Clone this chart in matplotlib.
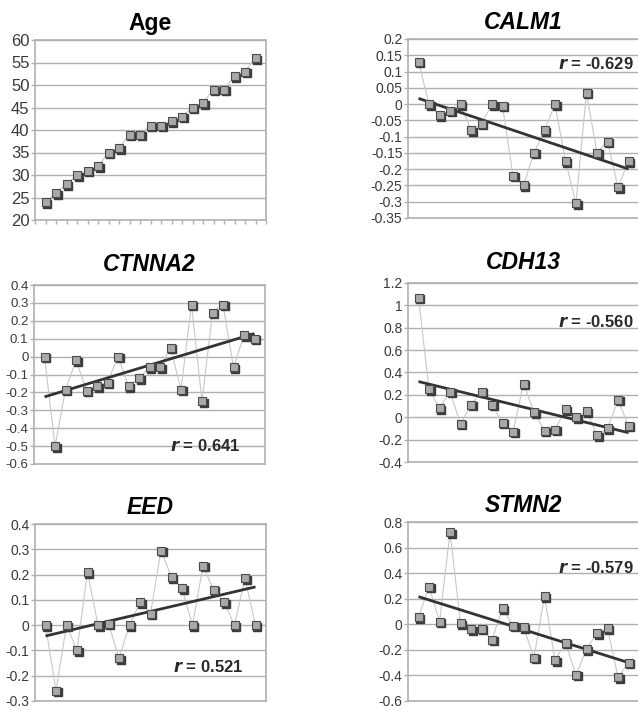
import numpy as np
import matplotlib
matplotlib.use('Agg')
import matplotlib.pyplot as plt
from matplotlib.transforms import offset_copy

plt.rcParams['font.family'] = ['Liberation Sans', 'DejaVu Sans']

# ---- data (21 samples, ordered by age) ----
age = [24, 26, 28, 30, 31, 32, 35, 36, 39, 39, 41, 41, 42, 43, 45, 46, 49, 49, 52, 53, 56]
calm1 = [0.13, 0.0, -0.035, -0.02, 0.0, -0.08, -0.06, 0.0, -0.005, -0.22, -0.25,
         -0.15, -0.08, 0.0, -0.175, -0.305, 0.035, -0.15, -0.115, -0.255, -0.175]
ctnna2 = [0.0, -0.5, -0.185, -0.02, -0.19, -0.165, -0.145, 0.0, -0.165, -0.12, -0.06,
          -0.06, 0.05, -0.185, 0.29, -0.25, 0.245, 0.29, -0.06, 0.12, 0.10]
cdh13 = [1.07, 0.25, 0.08, 0.23, -0.06, 0.11, 0.23, 0.11, -0.05, -0.13, 0.30,
         0.045, -0.12, -0.11, 0.07, 0.0, 0.055, -0.16, -0.10, 0.155, -0.075]
eed = [0.0, -0.26, 0.0, -0.1, 0.21, 0.0, 0.005, -0.13, 0.0, 0.09, 0.045,
       0.295, 0.19, 0.145, 0.0, 0.235, 0.14, 0.09, 0.0, 0.185, 0.0]
stmn2 = [0.055, 0.295, 0.02, 0.72, 0.01, -0.04, -0.035, -0.12, 0.125, -0.01, -0.025,
         -0.26, 0.22, -0.28, -0.145, -0.395, -0.195, -0.07, -0.03, -0.415, -0.30]

titles = ['Age', 'CALM1', 'CTNNA2', 'CDH13', 'EED', 'STMN2']
r_values = [None, '-0.629', '0.641', '-0.560', '0.521', '-0.579']

age_ticks = [20, 25, 30, 35, 40, 45, 50, 55, 60]
calm1_ticks = [-0.35, -0.3, -0.25, -0.2, -0.15, -0.1, -0.05, 0, 0.05, 0.1, 0.15, 0.2]
ctnna2_ticks = [-0.6, -0.5, -0.4, -0.3, -0.2, -0.1, 0, 0.1, 0.2, 0.3, 0.4]
cdh13_ticks = [-0.4, -0.2, 0, 0.2, 0.4, 0.6, 0.8, 1, 1.2]
eed_ticks = [-0.3, -0.2, -0.1, 0, 0.1, 0.2, 0.3, 0.4]
stmn2_ticks = [-0.6, -0.4, -0.2, 0, 0.2, 0.4, 0.6, 0.8]

series = [age, calm1, ctnna2, cdh13, eed, stmn2]
yticks = [age_ticks, calm1_ticks, ctnna2_ticks, cdh13_ticks, eed_ticks, stmn2_ticks]

# ---- layout (pixel boxes: left, top, bottom), tick label size, r-label spot ----
W, H = 638, 711
boxes = [(35, 40, 220), (408, 39, 218),
         (34, 285, 464), (408, 283, 462),
         (35, 524, 701), (408, 522, 701)]
tick_sizes = [12, 10, 9.5, 10, 10, 10]
title_pads = [7, 7, 10, 10, 7, 7]
r_pos = [None, (0.975, 0.86), (0.895, 0.10), (0.975, 0.78), (0.90, 0.19), (0.975, 0.745)]

fig = plt.figure(figsize=(W / 100, H / 100), dpi=100)
fig.patch.set_facecolor('white')

for i, vals in enumerate(series):
    left, top, bot = boxes[i]
    ax = fig.add_axes([left / W, 1 - bot / H, 231 / W, (bot - top) / H])
    x = np.arange(1, len(vals) + 1)
    y = np.array(vals)
    t = yticks[i]

    ax.set_xlim(0, 22)
    ax.set_ylim(t[0], t[-1])
    ax.set_yticks(t)
    ax.set_yticklabels(['%g' % v for v in t])
    ax.yaxis.grid(True, color='#b0b0b0', lw=1.0)
    ax.set_axisbelow(True)
    for s in ax.spines.values():
        s.set_color('#b0b0b0')
        s.set_linewidth(1.2)
    ax.tick_params(axis='y', length=3, width=1, color='#b0b0b0',
                   labelsize=tick_sizes[i], labelcolor='#3a3a3a', pad=1)
    if i == 0:
        ax.set_xticks(np.arange(0, 23))
        ax.set_xticklabels([])
        ax.tick_params(axis='x', length=3, width=1, color='#b0b0b0')
    else:
        ax.set_xticks([])

    # thin connector
    ax.plot(x, y, color='#c8c8c8', lw=0.8, zorder=2)
    # linear trend
    if i > 0:
        k, b = np.polyfit(x, y, 1)
        ax.plot(x[[0, -1]], k * x[[0, -1]] + b, color='#333333', lw=2.0, zorder=3,
                solid_capstyle='butt')
    # marker shadow then marker
    sh = offset_copy(ax.transData, fig=fig, x=1.5, y=-1.5, units='dots')
    ax.plot(x, y, 's', ms=5.8, color='#3c3c3c', mec='#3c3c3c', transform=sh,
            zorder=4, clip_on=False)
    ax.plot(x, y, 's', ms=5.8, mfc='#a9a9a9', mec='#4a4a4a', mew=0.8,
            zorder=5, clip_on=False)

    style = 'normal' if i == 0 else 'italic'
    ax.set_title(titles[i], fontsize=16.5, fontweight='bold', fontstyle=style,
                 pad=title_pads[i])
    if r_values[i] is not None:
        px, py = r_pos[i]
        ax.text(px, py, r'$\mathbfit{r}$ = ' + r_values[i], transform=ax.transAxes,
                ha='right', va='center', fontsize=12, fontweight='bold',
                color='#2a2a2a', zorder=6)

fig.savefig('out.png', dpi=100, facecolor='white')
